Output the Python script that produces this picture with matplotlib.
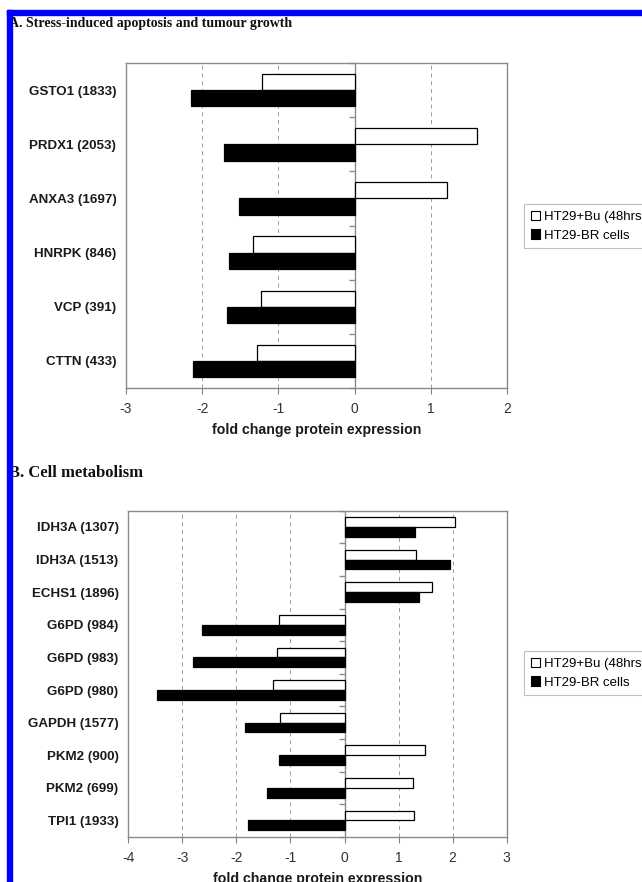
import numpy as np
import matplotlib as mpl
mpl.use('Agg')
import matplotlib.pyplot as plt
from matplotlib.patches import Rectangle, Patch

# panel A data
genes_a = ['GSTO1 (1833)', 'PRDX1 (2053)', 'ANXA3 (1697)', 'HNRPK (846)', 'VCP (391)', 'CTTN (433)']
bu_a = [-1.21, 1.61, 1.21, -1.33, -1.23, -1.28]
br_a = [-2.15, -1.71, -1.52, -1.65, -1.67, -2.12]

# panel B data
genes_b = ['IDH3A (1307)', 'IDH3A (1513)', 'ECHS1 (1896)', 'G6PD (984)', 'G6PD (983)',
           'G6PD (980)', 'GAPDH (1577)', 'PKM2 (900)', 'PKM2 (699)', 'TPI1 (1933)']
bu_b = [2.05, 1.32, 1.62, -1.22, -1.24, -1.33, -1.19, 1.48, 1.26, 1.28]
br_b = [1.30, 1.95, 1.38, -2.63, -2.81, -3.47, -1.84, -1.22, -1.43, -1.78]

series_names = ['HT29+Bu (48hrs)', 'HT29-BR cells']

mpl.rcParams.update({
  'font.family': 'Liberation Sans',
  'font.size': 9.6,
  'axes.unicode_minus': False
})

W, H = 642, 882
fig = plt.figure(figsize=(W / 100, H / 100), dpi=100)

def px_axes(l, t, r, b):
  return fig.add_axes([l / W, 1 - b / H, (r - l) / W, (b - t) / H])

def draw_panel(ax, genes, bu, br, xlim):
  y = np.arange(len(genes))
  h = 0.3
  ax.barh(y - h / 2, bu, height=h, color='white', edgecolor='black', linewidth=0.9, zorder=3)
  ax.barh(y + h / 2, br, height=h, color='black', edgecolor='black', linewidth=0.9, zorder=3)
  ax.set_xlim(*xlim)
  ax.set_ylim(len(genes) - 0.5, -0.5)
  ax.set_yticks(y)
  ax.set_yticklabels(genes, fontweight='bold', color='#1a1a1a', fontsize=9.6)
  ax.tick_params(axis='y', length=0, pad=7)
  ax.set_xticks(np.arange(xlim[0], xlim[1] + 1))
  ax.tick_params(axis='x', direction='out', length=4, pad=6, labelcolor='#333333',
                 color='#808080', labelsize=10)
  ax.grid(axis='x', linestyle=(0, (4, 4)), color='#9a9a9a', linewidth=0.7, zorder=0)
  for s in ax.spines.values():
    s.set_color('#8a8a8a')
    s.set_linewidth(1.0)
  # category axis drawn at x = 0 with boundary ticks
  ax.axvline(0, color='#8a8a8a', linewidth=1.0, zorder=2)
  bounds = np.arange(len(genes) + 1) - 0.5
  ax.plot(np.zeros(len(bounds)), bounds, ls='none', marker=mpl.markers.TICKLEFT,
          markersize=4, color='#8a8a8a', markeredgewidth=1.0, zorder=2, clip_on=False)
  ax.set_xlabel('fold change protein expression', fontweight='bold', color='#1a1a1a',
                fontsize=10.2, labelpad=5)

ax_a = px_axes(126, 63, 507, 388)
draw_panel(ax_a, genes_a, bu_a, br_a, (-3, 2))

ax_b = px_axes(128.3, 510.7, 506.7, 836.7)
draw_panel(ax_b, genes_b, bu_b, br_b, (-4, 3))

handles = [Patch(facecolor='white', edgecolor='black', linewidth=0.8),
           Patch(facecolor='black', edgecolor='black', linewidth=0.8)]
for top in (204, 651):
  leg = fig.legend(handles, series_names, loc='upper left',
                   bbox_to_anchor=(524 / W, 1 - top / H), fancybox=False,
                   handlelength=0.7, handleheight=0.7, handletextpad=0.3,
                   borderpad=0.5, labelspacing=0.5, fontsize=9.5,
                   borderaxespad=0)
  leg.get_frame().set_edgecolor('#b0b0b0')
  leg.get_frame().set_linewidth(0.8)

# panel headings
fig.text(9 / W, 1 - 27 / H, 'A. Stress-induced apoptosis and tumour growth',
         family='Liberation Serif', fontweight='bold', fontsize=10, va='baseline',
         color='#111111')
fig.text(9 / W, 1 - 477 / H, 'B. Cell metabolism',
         family='Liberation Serif', fontweight='bold', fontsize=12, va='baseline', color='#111111')

# blue frame on top and left edges
fig.patches.append(Rectangle((7 / W, 0), 5 / W, 1 - 10 / H, transform=fig.transFigure,
                             color='#0000ff', zorder=10))
fig.patches.append(Rectangle((7 / W, 1 - 15 / H), 1 - 7 / W, 5 / H, transform=fig.transFigure,
                             color='#0000ff', zorder=10))

fig.savefig('out.png', dpi=100)
